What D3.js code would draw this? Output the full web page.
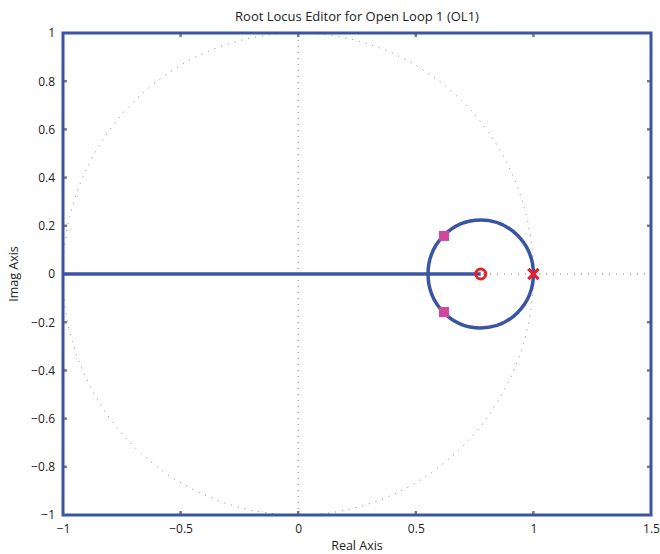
<!DOCTYPE html>
<html>
<head>
<meta charset="utf-8">
<script src="https://cdn.jsdelivr.net/npm/d3@7"></script>
<style>
  html, body { margin: 0; padding: 0; background: #fff; }
  svg { display: block; }
  text { font-family: "Open Sans", "Noto Sans", sans-serif; fill: #222; }
</style>
</head>
<body>
<svg id="chart" width="660" height="554"></svg>
<script>
// Root locus of open loop OL1: double pole at z = 1, zero near z = 0.776
const xDomain = [-1, 1.5];
const yDomain = [-1, 1];
const xTicks = [-1, -0.5, 0, 0.5, 1, 1.5];
const yTicks = [-1, -0.8, -0.6, -0.4, -0.2, 0, 0.2, 0.4, 0.6, 0.8, 1];

const openLoopPoles = [[1, 0], [1, 0]];
const openLoopZeros = [[0.776, 0]];
const closedLoopPoles = [[0.62, 0.158], [0.62, -0.158]];
// Real-axis branch: from the left edge to the zero
const realBranch = [[-1, 0], [0.776, 0]];
// Complex branches form a circle about the zero through the double pole
const locusCircle = { cx: 0.776, cy: 0, r: 0.224 };
// Unit circle (stability boundary)
const unitCircle = { cx: 0, cy: 0, r: 1 };

const blue = "#3a55a2", red = "#e8202a", magenta = "#d2479b", grey = "#7a7a7a";

const svg = d3.select("#chart");
const m = { left: 63, right: 9, top: 33, bottom: 39 };
const W = 660, H = 554;
const x = d3.scaleLinear().domain(xDomain).range([m.left, W - m.right]);
const y = d3.scaleLinear().domain(yDomain).range([H - m.bottom, m.top]);

svg.append("defs").append("clipPath").attr("id", "plotclip")
  .append("rect")
  .attr("x", x(xDomain[0])).attr("y", y(yDomain[1]))
  .attr("width", x(xDomain[1]) - x(xDomain[0]))
  .attr("height", y(yDomain[0]) - y(yDomain[1]));

const plot = svg.append("g").attr("clip-path", "url(#plotclip)");

// Dotted reference lines: real and imaginary axes
plot.append("line")
  .attr("x1", x(0)).attr("x2", x(0))
  .attr("y1", y(yDomain[0])).attr("y2", y(yDomain[1]))
  .attr("stroke", grey).attr("stroke-width", 1).attr("stroke-dasharray", "1,5");
plot.append("line")
  .attr("x1", x(xDomain[0])).attr("x2", x(xDomain[1]))
  .attr("y1", y(0)).attr("y2", y(0))
  .attr("stroke", grey).attr("stroke-width", 1).attr("stroke-dasharray", "1,6");

// Dotted unit circle
plot.append("ellipse")
  .attr("cx", x(unitCircle.cx)).attr("cy", y(unitCircle.cy))
  .attr("rx", x(unitCircle.r) - x(0)).attr("ry", y(0) - y(unitCircle.r))
  .attr("fill", "none").attr("stroke", grey).attr("stroke-width", 1)
  .attr("stroke-dasharray", "1,6");

// Locus branches
plot.append("path")
  .attr("d", d3.line().x(d => x(d[0])).y(d => y(d[1]))(realBranch))
  .attr("fill", "none").attr("stroke", blue).attr("stroke-width", 3.5);
plot.append("ellipse")
  .attr("cx", x(locusCircle.cx)).attr("cy", y(locusCircle.cy))
  .attr("rx", x(locusCircle.r) - x(0)).attr("ry", y(0) - y(locusCircle.r))
  .attr("fill", "none").attr("stroke", blue).attr("stroke-width", 3.5);

// Open-loop zeros
plot.selectAll(".zero").data(openLoopZeros).join("circle")
  .attr("class", "zero")
  .attr("cx", d => x(d[0])).attr("cy", d => y(d[1])).attr("r", 5)
  .attr("fill", "none").attr("stroke", red).attr("stroke-width", 3);

// Open-loop poles
const s = 5;
plot.selectAll(".pole").data(openLoopPoles).join("path")
  .attr("class", "pole")
  .attr("d", d => {
    const px = x(d[0]), py = y(d[1]);
    return `M${px - s},${py - s}L${px + s},${py + s}M${px - s},${py + s}L${px + s},${py - s}`;
  })
  .attr("stroke", red).attr("stroke-width", 3).attr("fill", "none");

// Closed-loop poles at the current gain
const q = 5;
plot.selectAll(".clpole").data(closedLoopPoles).join("rect")
  .attr("class", "clpole")
  .attr("x", d => x(d[0]) - q).attr("y", d => y(d[1]) - q)
  .attr("width", 2 * q).attr("height", 2 * q)
  .attr("fill", magenta);

// Inside tick marks on all four sides
const tickLen = 4;
const xInner = xTicks.filter(t => t > xDomain[0] && t < xDomain[1]);
const yInner = yTicks.filter(t => t > yDomain[0] && t < yDomain[1]);
const ticks = svg.append("g").attr("stroke", grey).attr("stroke-width", 2.5);
xInner.forEach(t => {
  ticks.append("line").attr("x1", x(t)).attr("x2", x(t))
    .attr("y1", y(yDomain[0])).attr("y2", y(yDomain[0]) - tickLen);
  ticks.append("line").attr("x1", x(t)).attr("x2", x(t))
    .attr("y1", y(yDomain[1])).attr("y2", y(yDomain[1]) + tickLen);
});
yInner.forEach(t => {
  if (t === 0) return;
  ticks.append("line").attr("y1", y(t)).attr("y2", y(t))
    .attr("x1", x(xDomain[0])).attr("x2", x(xDomain[0]) + tickLen);
  ticks.append("line").attr("y1", y(t)).attr("y2", y(t))
    .attr("x1", x(xDomain[1])).attr("x2", x(xDomain[1]) - tickLen);
});

// Plot frame
svg.append("rect")
  .attr("x", x(xDomain[0])).attr("y", y(yDomain[1]))
  .attr("width", x(xDomain[1]) - x(xDomain[0]))
  .attr("height", y(yDomain[0]) - y(yDomain[1]))
  .attr("fill", "none").attr("stroke", blue).attr("stroke-width", 3);

// Tick labels via D3 axes (lines hidden, labels kept)
const fmt = d => (d < 0 ? "\u2212" : "") + d3.format("~g")(Math.abs(d));
const xAxis = svg.append("g")
  .attr("transform", `translate(0,${y(yDomain[0])})`)
  .call(d3.axisBottom(x).tickValues(xTicks).tickFormat(fmt).tickSize(0).tickPadding(9));
const yAxis = svg.append("g")
  .attr("transform", `translate(${x(xDomain[0])},0)`)
  .call(d3.axisLeft(y).tickValues(yTicks).tickFormat(fmt).tickSize(0).tickPadding(8));
[xAxis, yAxis].forEach(a => {
  a.select(".domain").remove();
  a.selectAll("text").style("font-size", "12px").attr("fill", "#222");
});

// Titles
svg.append("text").attr("x", 357).attr("y", 21).attr("text-anchor", "middle")
  .style("font-size", "13px").text("Root Locus Editor for Open Loop 1 (OL1)");
svg.append("text").attr("x", 357).attr("y", 550).attr("text-anchor", "middle")
  .style("font-size", "12.5px").text("Real Axis");
svg.append("text").attr("transform", `translate(18,${y(0)}) rotate(-90)`)
  .attr("text-anchor", "middle").style("font-size", "12.5px").text("Imag Axis");
</script>
</body>
</html>
